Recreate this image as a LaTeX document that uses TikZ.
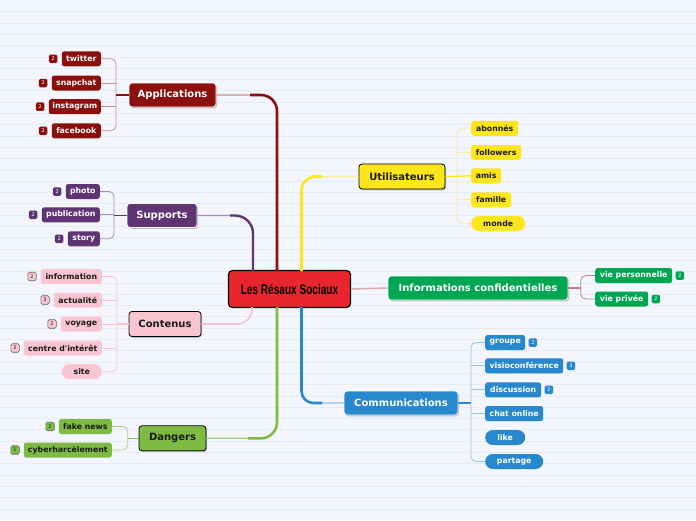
\documentclass[tikz,border=0pt]{standalone}
\usepackage{fontspec}
\setmainfont{DejaVu Sans}
\newfontfamily\ctrfont{Liberation Sans}[FakeStretch=0.72]
\usetikzlibrary{shadows,calc}
\definecolor{bg}{HTML}{F3F6FE}
\definecolor{bgline}{HTML}{E7EBF4}
\definecolor{appc}{HTML}{8B0F0C}
\definecolor{appl}{HTML}{C98F90}
\definecolor{supc}{HTML}{5E3472}
\definecolor{supl}{HTML}{A68AB9}
\definecolor{conc}{HTML}{F9C5D0}
\definecolor{conl}{HTML}{F7C3CE}
\definecolor{danc}{HTML}{7DBB42}
\definecolor{danl}{HTML}{A8D27E}
\definecolor{utic}{HTML}{FFE51C}
\definecolor{utiline}{HTML}{FCE98C}
\definecolor{infc}{HTML}{00A651}
\definecolor{infl}{HTML}{C27F84}
\definecolor{infm}{HTML}{D9A9AF}
\definecolor{comc}{HTML}{2788CE}
\definecolor{coml}{HTML}{93C4EC}
\definecolor{ctrc}{HTML}{E9262E}
\definecolor{txt}{HTML}{1A1A1A}
\tikzset{
  mainbox/.style={rounded corners=3pt, minimum height=24, inner xsep=4, inner ysep=0,
    font=\fontsize{10}{12}\selectfont\bfseries,
    drop shadow={shadow xshift=1pt,shadow yshift=-1.3pt,opacity=0.35,fill=black!70}},
  whitemain/.style={mainbox, draw=white, line width=0.8, text=white},
  blackmain/.style={mainbox, draw=black, line width=0.8, text=txt},
  leaf/.style={rounded corners=2.5pt, minimum height=15, inner xsep=3, inner ysep=0,
    font=\fontsize{7.8}{9}\selectfont\bfseries},
  pill/.style={rounded corners=7.5pt},
  badge/.style={minimum size=8.5, inner sep=0, rounded corners=1.5pt,
    font=\fontsize{5}{5}\selectfont},
  brk/.style={line width=0.8, rounded corners=5},
}
\begin{document}
\begin{tikzpicture}[x=1pt,y=-1pt]
\useasboundingbox (0,0) rectangle (696,520);
\fill[bg] (0,0) rectangle (696,520);
\foreach \i in {1,...,45} \draw[bgline, line width=0.6] (0,{11.3*\i+0.3}) -- (696,{11.3*\i+0.3});

% ---------- center
\node[draw=black, line width=1.2, fill=ctrc, rounded corners=4, minimum width=122, minimum height=37,
  font=\ctrfont\bfseries\fontsize{14}{16}\selectfont, text=black] (ctr) at (289.5,289) {Les Résaux Sociaux};

% ---------- main nodes
\node[whitemain, fill=appc, minimum width=87] (app) at (172.5,95) {Applications};
\node[whitemain, fill=supc, minimum width=70] (sup) at (162,215.5) {Supports};
\node[blackmain, fill=conc, minimum width=72, minimum height=25] (con) at (165,324) {Contenus};
\node[blackmain, fill=danc, minimum width=67, minimum height=25] (dan) at (172.5,438.3) {Dangers};
\node[blackmain, fill=utic, minimum width=86, minimum height=25] (uti) at (402,176.5) {Utilisateurs};
\node[whitemain, fill=infc, minimum width=180] (inf) at (478,288) {Informations confidentielles};
\node[whitemain, fill=comc, minimum width=114] (com) at (401,403) {Communications};

% ---------- Applications leaves
\begin{scope}[every node/.style={leaf, fill=appc, text=white, anchor=east}]
\node[minimum width=39] (tw) at (101,58.8) {twitter};
\node[minimum width=49] (sn) at (101,83) {snapchat};
\node[minimum width=52] (ig) at (101,106.7) {instagram};
\node[minimum width=49] (fb) at (101,130.8) {facebook};
\end{scope}
\begin{scope}[every node/.style={badge, fill=appc, text=white, anchor=east}]
\node (btw) at ($(tw.west)+(-4,0)$) {2};
\node (bsn) at ($(sn.west)+(-4,0)$) {2};
\node (big) at ($(ig.west)+(-4,0)$) {2};
\node (bfb) at ($(fb.west)+(-4,0)$) {2};
\end{scope}

% ---------- Supports leaves
\begin{scope}[every node/.style={leaf, fill=supc, text=white, anchor=east}]
\node[minimum width=34] (ph) at (100,191.5) {photo};
\node[minimum width=58] (pu) at (100,214.8) {publication};
\node[minimum width=32] (st) at (100,238.8) {story};
\end{scope}
\begin{scope}[every node/.style={badge, fill=supc, text=white, anchor=east}]
\node (bph) at ($(ph.west)+(-4,0)$) {2};
\node (bpu) at ($(pu.west)+(-4,0)$) {2};
\node (bst) at ($(st.west)+(-4,0)$) {2};
\end{scope}

% ---------- Contenus leaves
\begin{scope}[every node/.style={leaf, fill=conc, text=txt, anchor=east}]
\node[minimum width=61] (inn) at (102,276.5) {information};
\node[minimum width=48] (ac) at (102,300) {actualité};
\node[minimum width=41] (vo) at (102,324) {voyage};
\node[minimum width=78] (ce) at (102,348) {centre d\textquotesingle intérêt};
\node[pill, minimum width=40] (si) at (102,371.7) {site};
\end{scope}
\begin{scope}[every node/.style={badge, fill=conc, draw=black!60, line width=0.6, text=txt, anchor=east}]
\node (binn) at ($(inn.west)+(-4,0)$) {2};
\node (bac) at ($(ac.west)+(-4,0)$) {3};
\node (bvo) at ($(vo.west)+(-4,0)$) {2};
\node (bce) at ($(ce.west)+(-4,0)$) {2};
\end{scope}

% ---------- Dangers leaves
\begin{scope}[every node/.style={leaf, fill=danc, text=txt, anchor=east}]
\node[minimum width=53] (fk) at (112,426.5) {fake news};
\node[minimum width=88] (cy) at (112,450) {cyberharcèlement};
\end{scope}
\begin{scope}[every node/.style={badge, fill=danc, draw=black!60, line width=0.6, text=txt, anchor=east}]
\node (bfk) at ($(fk.west)+(-4,0)$) {2};
\node (bcy) at ($(cy.west)+(-4,0)$) {1};
\end{scope}

% ---------- Utilisateurs leaves
\begin{scope}[every node/.style={leaf, fill=utic, text=txt, anchor=west}]
\node[minimum width=47] (ab) at (471,128.3) {abonnés};
\node[minimum width=50] (fo) at (471,152.5) {followers};
\node[minimum width=30] (am) at (471,175.8) {amis};
\node[minimum width=40] (fa) at (471,199.8) {famille};
\node[pill, minimum width=54] (mo) at (471,223.5) {monde};
\end{scope}

% ---------- Informations leaves
\begin{scope}[every node/.style={leaf, fill=infc, text=white, anchor=west}]
\node[minimum width=77] (vp) at (595,275.5) {vie personnelle};
\node[minimum width=53] (vv) at (595,299) {vie privée};
\end{scope}
\begin{scope}[every node/.style={badge, fill=infc, text=white, anchor=west}]
\node (bvp) at ($(vp.east)+(3,0)$) {2};
\node (bvv) at ($(vv.east)+(3,0)$) {2};
\end{scope}

% ---------- Communications leaves
\begin{scope}[every node/.style={leaf, fill=comc, text=white, anchor=west}]
\node[minimum width=40] (gr) at (485,342.5) {groupe};
\node[minimum width=78] (vi) at (485,365.8) {visioconférence};
\node[minimum width=56] (di) at (485,389.8) {discussion};
\node[minimum width=58] (ch) at (485,413.5) {chat online};
\node[pill, minimum width=40] (li) at (485,437.5) {like};
\node[pill, minimum width=58] (pa) at (485,461.5) {partage};
\end{scope}
\begin{scope}[every node/.style={badge, fill=comc, text=white, anchor=west}]
\node (bgr) at ($(gr.east)+(3,0)$) {2};
\node (bvi) at ($(vi.east)+(3,0)$) {3};
\node (bdi) at ($(di.east)+(3,0)$) {2};
\end{scope}

% ---------- brackets
\coordinate (appb) at (116,95);
\draw[brk, appl] (tw.east) -| (appb) |- (fb.east);
\draw[brk, appl] (sn.east) -- (sn.east -| appb);
\draw[brk, appl] (ig.east) -- (ig.east -| appb);
\draw[appc, line width=1.5] (appb) -- (app.west);

\coordinate (supb) at (114,215.5);
\draw[brk, supl] (ph.east) -| (supb) |- (st.east);
\draw[brk, supl] (pu.east) -- (pu.east -| supb);
\draw[supc, line width=1.3] (supb) -- (sup.west);

\coordinate (conb) at (117,324);
\draw[brk, conl] (inn.east) -| (conb) |- (si.east);
\draw[brk, conl] (ac.east) -- (ac.east -| conb);
\draw[brk, conl] (vo.east) -- (vo.east -| conb);
\draw[brk, conl] (ce.east) -- (ce.east -| conb);
\draw[conl, line width=1.3] (conb) -- (con.west);

\coordinate (danb) at (127.7,438.3);
\draw[brk, danl] (fk.east) -| (danb) |- (cy.east);
\draw[danc, line width=1.3] (danb) -- (dan.west);

\coordinate (utib) at (457.3,176.5);
\draw[brk, utiline] (ab.west) -| (utib) |- (mo.west);
\draw[brk, utiline] (fo.west) -- (fo.west -| utib);
\draw[brk, utiline] (fa.west) -- (fa.west -| utib);
\draw[utic, line width=1.3] (uti.east) -- (am.west);

\coordinate (infb) at (580.7,288);
\draw[brk, infl] (vp.west) -| (infb) |- (vv.west);
\draw[infl, line width=1.3] (inf.east) -- (infb);

\coordinate (comb) at (471,403);
\draw[brk, coml] (gr.west) -| (comb) |- (pa.west);
\draw[brk, coml] (vi.west) -- (vi.west -| comb);
\draw[brk, coml] (di.west) -- (di.west -| comb);
\draw[brk, coml] (ch.west) -- (ch.west -| comb);
\draw[comc, line width=1.3] (com.east) -- (comb);

% ---------- main connectors
\coordinate (cA) at (277,271);
\coordinate (cS) at (253,271);
\coordinate (cC) at (252,307);
\coordinate (cD) at (277,307);
\coordinate (cU) at (301.5,271);
\coordinate (cM) at (301.5,307);
\coordinate (mA) at (250,95);
\coordinate (mS) at (230,215.5);
\coordinate (mD) at (248,438.3);
\coordinate (mU) at (322,176.5);
\coordinate (mM) at (322,403);

\draw[appl, line width=1.2, rounded corners=16] (app.east) -| (cA);
\draw[appc, line width=2.6, rounded corners=16] (mA) -| (cA);

\draw[supl, line width=1.2, rounded corners=18] (sup.east) -| (cS);
\draw[supc, line width=2.4, rounded corners=18] (mS) -| (cS);

\draw[conl, line width=1.6, rounded corners=15] (con.east) -| (cC);

\draw[danl, line width=1.2, rounded corners=16] (dan.east) -| (cD);
\draw[danc, line width=2.6, rounded corners=16] (mD) -| (cD);

\draw[utiline, line width=1.2, rounded corners=14] (cU) |- (uti.west);
\draw[utic, line width=2.6, rounded corners=14] (cU) |- (mU);

\draw[infm, line width=1.5] (ctr.east) -- (inf.west);

\draw[coml, line width=1.2, rounded corners=12] (cM) |- (com.west);
\draw[comc, line width=2.6, rounded corners=12] (cM) |- (mM);
\end{tikzpicture}
\end{document}
